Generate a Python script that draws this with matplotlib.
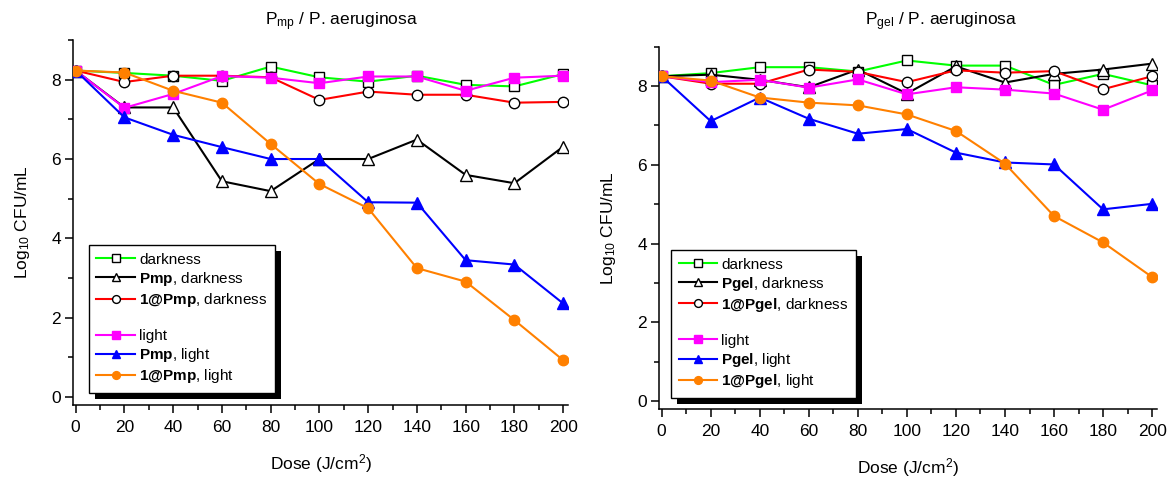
import matplotlib
matplotlib.use("Agg")
from matplotlib import pyplot as plt
from matplotlib.lines import Line2D
from matplotlib.patches import Rectangle
from matplotlib.ticker import MultipleLocator

plt.rcParams['font.family'] = ['Liberation Sans', 'DejaVu Sans']
plt.rcParams['mathtext.fontset'] = 'custom'
plt.rcParams['mathtext.rm'] = 'Liberation Sans'
plt.rcParams['mathtext.it'] = 'Liberation Sans:italic'
plt.rcParams['mathtext.bf'] = 'Liberation Sans:bold'

dose = [0, 20, 40, 60, 80, 100, 120, 140, 160, 180, 200]

# P_mp panel
mp_dark = [8.23, 8.17, 8.10, 7.97, 8.33, 8.06, 7.95, 8.10, 7.87, 7.83, 8.14]
mp_pmp_dark = [8.23, 7.30, 7.30, 5.44, 5.19, 6.00, 6.00, 6.49, 5.60, 5.39, 6.31]
mp_1pmp_dark = [8.23, 7.94, 8.10, 8.10, 8.06, 7.49, 7.70, 7.62, 7.62, 7.42, 7.44]
mp_light = [8.23, 7.29, 7.64, 8.09, 8.05, 7.91, 8.08, 8.08, 7.72, 8.05, 8.10]
mp_pmp_light = [8.23, 7.05, 6.61, 6.30, 6.00, 6.00, 4.91, 4.90, 3.45, 3.34, 2.36]
mp_1pmp_light = [8.23, 8.18, 7.72, 7.42, 6.38, 5.37, 4.76, 3.25, 2.91, 1.94, 0.93]

# P_gel panel
gel_dark = [8.25, 8.33, 8.48, 8.48, 8.37, 8.65, 8.52, 8.52, 8.03, 8.31, 8.02]
gel_pgel_dark = [8.25, 8.29, 8.16, 7.97, 8.42, 7.81, 8.50, 8.09, 8.31, 8.42, 8.57]
gel_1pgel_dark = [8.25, 8.06, 8.06, 8.42, 8.36, 8.10, 8.40, 8.34, 8.38, 7.92, 8.25]
gel_light = [8.25, 8.10, 8.16, 7.96, 8.17, 7.79, 7.97, 7.91, 7.81, 7.40, 7.89]
gel_pgel_light = [8.25, 7.11, 7.71, 7.17, 6.79, 6.91, 6.31, 6.06, 6.01, 4.87, 5.01]
gel_1pgel_light = [8.25, 8.14, 7.71, 7.58, 7.51, 7.28, 6.86, 6.03, 4.70, 4.03, 3.15]

ORANGE = '#ff8000'


def panel(ax, name, series, legend_anchor):
    dark, p_dark, one_dark, light, p_light, one_light = series
    styles = [
        (dark, '#00ff00', 's', 'white', 'darkness'),
        (p_dark, 'black', '^', 'white', r'$\mathbf{%s}$, darkness' % name),
        (one_dark, '#ff0000', 'o', 'white', r'$\mathbf{1@%s}$, darkness' % name),
        (light, '#ff00ff', 's', '#ff00ff', 'light'),
        (p_light, '#0000ff', '^', '#0000ff', r'$\mathbf{%s}$, light' % name),
        (one_light, ORANGE, 'o', ORANGE, r'$\mathbf{1@%s}$, light' % name),
    ]
    handles = {}
    # draw order: magenta on top
    for i in [0, 1, 2, 4, 5, 3]:
        y, c, m, fc, lab = styles[i]
        mec = 'black' if fc == 'white' else c
        ms = 8 if m == '^' else 7.5
        h, = ax.plot(dose, y, color=c, lw=1.5, marker=m, ms=ms,
                     mfc=fc, mec=mec, mew=1.0, label=lab, zorder=2 + i)
        handles[i] = h
    blank = Line2D([], [], color='none', label=' ')
    hl = [handles[0], handles[1], handles[2], blank,
          handles[3], handles[4], handles[5]]
    leg = ax.legend(handles=hl, loc='upper left', bbox_to_anchor=legend_anchor,
                    borderaxespad=0, fontsize=11, frameon=True, fancybox=False,
                    framealpha=1, edgecolor='black', handlelength=2.5,
                    handletextpad=0.3, labelspacing=0.2, markerscale=0.75,
                    borderpad=0.5)
    leg.get_frame().set_linewidth(1.0)
    leg.set_zorder(20)

    ax.set_xlim(-0.9, 202)
    ax.set_ylim(-0.2, 9)
    ax.xaxis.set_major_locator(MultipleLocator(20))
    ax.xaxis.set_minor_locator(MultipleLocator(10))
    ax.yaxis.set_major_locator(MultipleLocator(2))
    ax.yaxis.set_minor_locator(MultipleLocator(1))
    ax.spines['top'].set_visible(False)
    ax.spines['right'].set_visible(False)
    for s in ['left', 'bottom']:
        ax.spines[s].set_linewidth(1.1)
    ax.tick_params(which='major', direction='out', length=6, width=1.1,
                   labelsize=12.5, pad=3)
    ax.tick_params(axis='x', which='major', pad=5)
    ax.tick_params(which='minor', direction='out', length=3.5, width=1.1)
    ax.set_xlabel(r'Dose (J/cm$^{2}$)', fontsize=12.5, labelpad=12)
    ax.set_ylabel(r'Log$_{10}$ CFU/mL', fontsize=12.5, labelpad=14)
    return leg


fig = plt.figure(figsize=(11.68, 4.79), dpi=100)
ax1 = fig.add_axes([0.0629, 0.1545, 0.4234, 0.762])
ax2 = fig.add_axes([0.5646, 0.1461, 0.4260, 0.7564])

leg1 = panel(ax1, 'Pmp', [mp_dark, mp_pmp_dark, mp_1pmp_dark, mp_light,
                          mp_pmp_light, mp_1pmp_light], (0.031, 0.438))
leg2 = panel(ax2, 'Pgel', [gel_dark, gel_pgel_dark, gel_1pgel_dark, gel_light,
                           gel_pgel_light, gel_1pgel_light], (0.023, 0.439))

fig.text(0.292, 0.955, r'P$_{\mathrm{mp}}$ / P. aeruginosa', fontsize=12.5,
         ha='center', va='center')
fig.text(0.806, 0.955, r'P$_{\mathrm{gel}}$ / P. aeruginosa', fontsize=12.5,
         ha='center', va='center')

# black drop shadow behind each legend box
fig.canvas.draw()
for ax, leg in [(ax1, leg1), (ax2, leg2)]:
    bb = leg.get_frame().get_window_extent()
    sh = Rectangle((bb.x0 + 6, bb.y0 - 6), bb.width, bb.height,
                   facecolor='black', edgecolor='none', zorder=19,
                   transform=None, clip_on=False)
    ax.add_artist(sh)

fig.savefig('out.png', dpi=100)
